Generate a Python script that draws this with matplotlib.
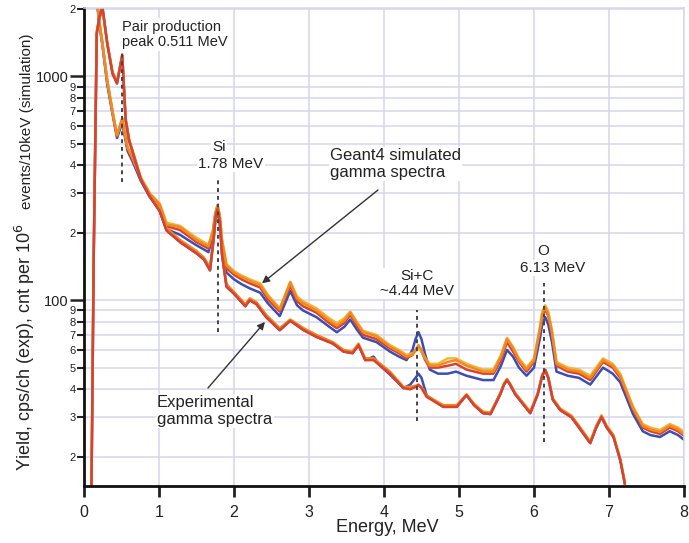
import matplotlib
matplotlib.use('Agg')
import matplotlib.pyplot as plt
from matplotlib.ticker import FixedLocator, FixedFormatter

plt.rcParams['font.family'] = ['Liberation Sans', 'DejaVu Sans']

# ---------------- data ----------------
E_sim = [0.15, 0.2, 0.245, 0.31, 0.38, 0.44, 0.51, 0.58, 0.65, 0.76,
         0.88, 1.01, 1.1, 1.28, 1.5, 1.66, 1.72, 1.75, 1.78, 1.81,
         1.84, 1.9, 2.0, 2.1, 2.21, 2.35, 2.45, 2.61, 2.75, 2.84,
         2.92, 3.1, 3.25, 3.37, 3.47, 3.55, 3.65, 3.72, 3.9, 4.08,
         4.2, 4.3, 4.38, 4.42, 4.46, 4.50, 4.55, 4.61, 4.72, 4.85,
         4.96, 5.1, 5.32, 5.46, 5.56, 5.64, 5.72, 5.8, 5.9, 6.0,
         6.08, 6.11, 6.15, 6.19, 6.24, 6.3, 6.45, 6.6, 6.75, 6.92,
         7.05, 7.15, 7.32, 7.45, 7.55, 7.68, 7.81, 7.92, 8.0]

sim_orange = [2600, 1800, 1420, 960, 700, 545, 650, 480, 430, 350,
              298, 268, 218, 212, 186, 174, 205, 245, 266, 240,
              185, 143, 133, 127, 122, 117, 104, 91, 120, 102,
              97, 90, 82, 77, 81, 88, 78, 72, 69, 62,
              59, 56, 57, 60, 63, 60, 55, 51, 51, 53,
              54, 51, 48, 48, 56, 67, 61, 54, 49, 54,
              75, 87, 93, 87, 72, 52, 49, 48, 45, 54,
              51, 46, 33, 27.5, 26.5, 25.8, 27.5, 26.5, 25.2]

sim_yellow = [2600, 1800, 1420, 960, 700, 548, 648, 485, 435, 352,
              300, 270, 222, 215, 190, 177, 205, 243, 264, 240,
              188, 145, 135, 129, 124, 119, 106, 92, 121, 104,
              99, 92, 84, 79, 83, 89, 79, 73, 70, 63,
              60, 57, 58, 59, 61, 59, 55, 52, 52, 55,
              55, 52, 49, 49, 57, 68, 62, 55, 50, 55,
              76, 89, 95, 89, 73, 53, 50, 49, 46, 55,
              52, 47, 33.5, 28, 27, 26.3, 28, 27, 25.8]

sim_red = [2600, 1780, 1400, 945, 690, 540, 640, 475, 425, 345,
           294, 262, 214, 206, 182, 170, 202, 240, 262, 235,
           180, 139, 130, 124, 119, 114, 101, 89, 116, 99,
           94, 88, 80, 75, 79, 86, 76, 70, 67, 61,
           58, 55, 57, 60, 62, 59, 54, 50, 50, 51,
           52, 49, 47, 47, 54, 65, 59, 53, 48, 53,
           73, 85, 91, 85, 70, 51, 48, 47, 44, 53,
           50, 45, 32.5, 27, 26, 25.3, 27, 26, 24.8]

sim_blue = [2600, 1750, 1380, 920, 680, 530, 620, 465, 415, 340,
            288, 252, 208, 196, 176, 164, 195, 228, 248, 222,
            172, 133, 124, 118, 113, 108, 97, 85, 110, 95,
            90, 84, 77, 72, 76, 82, 73, 68, 65, 59,
            56, 54, 60, 67, 72, 67, 57, 49, 47, 47,
            48, 46, 44, 44, 51, 60, 56, 50, 46, 50,
            68, 78, 84, 78, 65, 48, 46, 45, 42, 50,
            47, 43, 31, 26, 25, 24.5, 26, 25, 23.8]

E_exp = [0.10, 0.13, 0.17, 0.2, 0.245, 0.31, 0.38, 0.44, 0.51, 0.555,
         0.6, 0.67, 0.76, 0.88, 1.01, 1.1, 1.28, 1.5, 1.6, 1.68,
         1.73, 1.755, 1.78, 1.81, 1.84, 1.9, 2.0, 2.15, 2.21, 2.3,
         2.43, 2.61, 2.75, 2.93, 3.1, 3.32, 3.46, 3.58, 3.66, 3.75,
         3.86, 3.95, 4.08, 4.26, 4.35, 4.42, 4.46, 4.50, 4.57, 4.79,
         4.97, 5.1, 5.2, 5.32, 5.42, 5.55, 5.60, 5.64, 5.68, 5.75,
         5.95, 6.05, 6.11, 6.15, 6.19, 6.25, 6.35, 6.5, 6.6, 6.75,
         6.83, 6.9, 6.97, 7.06, 7.15, 7.21]

exp_red = [15, 160, 1550, 1800, 2050, 1400, 1030, 930, 1240, 640,
           520, 435, 345, 290, 250, 205, 182, 162, 152, 136,
           190, 235, 255, 225, 160, 115, 107, 94, 100, 96,
           84, 73.5, 81, 73.5, 68.6, 64, 59, 58, 63, 54,
           54, 51, 47, 40.5, 40, 41, 42, 40.5, 37, 33.4,
           33.4, 37.7, 34, 31.3, 31, 38, 42, 44, 42, 38,
           31.3, 38, 46, 48.7, 45, 36, 32.3, 30, 27, 23,
           27, 30.1, 27, 24.5, 19.3, 15.2]

exp_orange = [15, 165, 1600, 1780, 2000, 1420, 1050, 940, 1250, 650,
              525, 440, 350, 295, 255, 210, 186, 166, 155, 140,
              192, 237, 256, 228, 164, 118, 109, 96, 102, 98,
              86, 75, 82, 75, 70, 65, 60, 59, 64, 55,
              55, 52, 48, 41, 41, 41.5, 41.5, 41, 37.5, 34,
              34, 38, 34.5, 31.8, 31.5, 38.5, 42.5, 44.5, 42.5, 38.5,
              31.8, 38.5, 46.5, 49, 45.5, 36.5, 32.8, 30.5, 27.5, 23.4,
              27.5, 30.6, 27.5, 25, 19.6, 15.5]

exp_blue = [15, 160, 1550, 1800, 2050, 1400, 1030, 930, 1240, 640,
            520, 435, 345, 290, 250, 205, 182, 162, 152, 136,
            190, 235, 255, 225, 160, 115, 107, 94, 100, 96,
            84, 73.5, 81, 73.5, 68.6, 64, 59, 58, 63, 54,
            56, 51, 46.5, 40.5, 42, 45, 47, 45, 37.5, 33.4,
            33.4, 37.7, 34, 31.3, 31, 38, 42, 44, 42, 38,
            31.3, 38, 46, 48.7, 45, 36, 32.3, 30, 27, 23,
            27, 30.1, 27, 24.5, 19.3, 15.2]

x_ticks = [0, 1, 2, 3, 4, 5, 6, 7, 8]
x_tick_labels = ['0', '1', '2', '3', '4', '5', '6', '7', '8']
y_major_ticks = [100, 1000]
y_major_labels = ['100', '1000']
y_minor_ticks = [20, 30, 40, 50, 60, 70, 80, 90,
                 200, 300, 400, 500, 600, 700, 800, 900, 2000]
y_minor_labels = ['2', '3', '4', '5', '6', '7', '8', '9',
                  '2', '3', '4', '5', '6', '7', '8', '9', '2']

# peak markers: energy, top and bottom of the dotted line
peak_E = [0.511, 1.78, 4.44, 6.13]
peak_top = [1300, 357, 90, 120]
peak_bot = [336, 72, 29, 23.2]

# ---------------- figure ----------------
W, H = 689, 543
fig = plt.figure(figsize=(W / 100, H / 100), dpi=100)
ax = fig.add_axes([84 / W, 1 - 486 / H, 600 / W, 478 / H])

BLUE = '#3c4db5'
RED = '#d9432b'
ORANGE = '#ef8a22'
YELLOW = '#f2b43a'
GRID = '#d6d6ec'

lw = 1.8
ax.plot(E_sim, sim_blue, color=BLUE, lw=lw)
ax.plot(E_sim, sim_red, color=RED, lw=lw)
ax.plot(E_sim, sim_yellow, color=YELLOW, lw=lw)
ax.plot(E_sim, sim_orange, color=ORANGE, lw=lw)

ax.plot(E_exp, exp_blue, color=BLUE, lw=lw)
ax.plot(E_exp, exp_orange, color=ORANGE, lw=lw)
ax.plot(E_exp, exp_red, color=RED, lw=lw)

ax.set_yscale('log')
ax.set_xlim(0, 8)
ax.set_ylim(14.8, 2020)

ax.xaxis.set_major_locator(FixedLocator(x_ticks))
ax.xaxis.set_major_formatter(FixedFormatter(x_tick_labels))
ax.yaxis.set_major_locator(FixedLocator(y_major_ticks))
ax.yaxis.set_major_formatter(FixedFormatter(y_major_labels))
ax.yaxis.set_minor_locator(FixedLocator(y_minor_ticks))
ax.yaxis.set_minor_formatter(FixedFormatter(y_minor_labels))

ax.tick_params(axis='x', which='major', direction='out', length=8, width=2,
               labelsize=11.5, pad=6, colors='#222222')
ax.tick_params(axis='y', which='major', direction='out', length=10, width=1.8,
               labelsize=10.5, pad=1, colors='#222222')
ax.tick_params(axis='y', which='minor', direction='out', length=5, width=1.5,
               labelsize=8, pad=1, colors='#222222')

ax.set_axisbelow(True)
ax.grid(True, axis='y', which='both', color=GRID, lw=1.1)
ax.grid(True, axis='x', which='major', color=GRID, lw=1.1)

for s in ['left', 'bottom']:
    ax.spines[s].set_color('#111111')
    ax.spines[s].set_linewidth(2)
for s in ['top', 'right']:
    ax.spines[s].set_color(GRID)
    ax.spines[s].set_linewidth(1.1)

# dotted peak markers
for e, t, b in zip(peak_E, peak_top, peak_bot):
    ax.plot([e, e], [b, t], color='#444444', lw=1.4, ls=(0, (2, 2)))

def fp(px, py):
    return (px / W, 1 - py / H)

box = dict(facecolor='white', edgecolor='none', pad=1.0)
tc = '#222222'

fig.text(*fp(122, 34.5), 'Pair production\npeak 0.511 MeV', ha='left',
         va='center', fontsize=10.5, color=tc, bbox=box, linespacing=1.15)
fig.text(*fp(219, 147), 'Si', ha='center', va='center', fontsize=11,
         color=tc, bbox=box)
fig.text(*fp(231, 164), '1.78 MeV', ha='center', va='center', fontsize=11,
         color=tc, bbox=box)
fig.text(*fp(330, 164), 'Geant4 simulated\ngamma spectra', ha='left',
         va='center', fontsize=12, color=tc, bbox=box, linespacing=1.1)
fig.text(*fp(157, 411), 'Experimental\ngamma spectra', ha='left',
         va='center', fontsize=12, color=tc, bbox=box, linespacing=1.1)
fig.text(*fp(417, 283.5), 'Si+C\n~4.44 MeV', ha='center', va='center',
         fontsize=11, color=tc, bbox=box, linespacing=1.1)
fig.text(*fp(543, 251), 'O', ha='center', va='center', fontsize=11,
         color=tc, bbox=box)
fig.text(*fp(553, 268), '6.13 MeV', ha='center', va='center', fontsize=11,
         color=tc, bbox=box)

arrow = dict(arrowstyle='-|>', color='#333333', lw=1.0, mutation_scale=11,
             shrinkA=0, shrinkB=0)
ax.annotate('', xy=(2.373, 119), xycoords='data',
            xytext=fp(378, 190), textcoords='figure fraction', arrowprops=arrow)
ax.annotate('', xy=(2.413, 80), xycoords='data',
            xytext=fp(208, 388), textcoords='figure fraction', arrowprops=arrow)

# axis labels
fig.text(*fp(387, 528), 'Energy, MeV', ha='center', va='center', fontsize=13,
         color=tc)
fig.text(*fp(25, 471), 'Yield, cps/ch (exp), cnt per 10$^{6}$', rotation=90,
         ha='center', va='bottom', fontsize=13, color=tc)
fig.text(*fp(27, 209), 'events/10keV (simulation)', rotation=90,
         ha='center', va='bottom', fontsize=11, color=tc)

fig.savefig('out.png', dpi=100)
